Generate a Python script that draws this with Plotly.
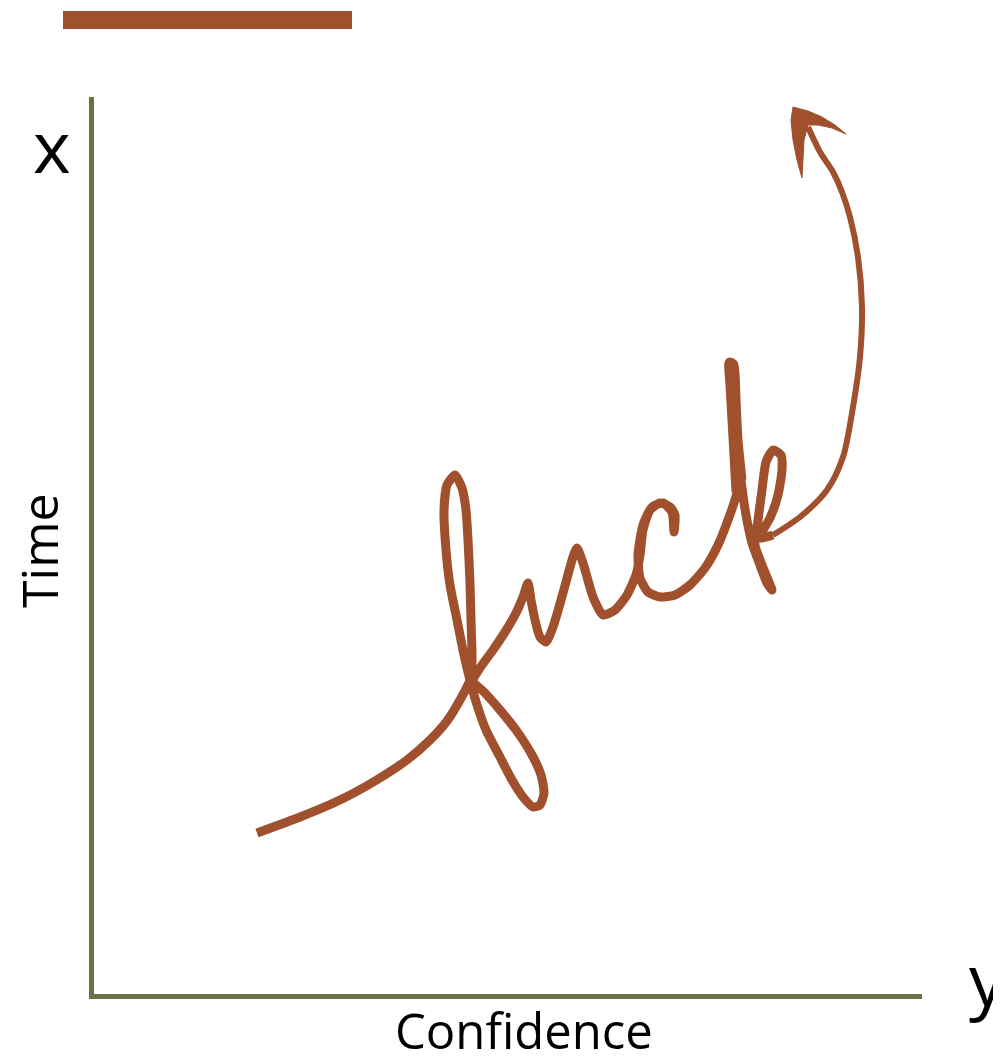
import plotly.graph_objects as go

# hand-written stroke (pixel-like units of the plot area)
script_x = [257, 300, 340, 375, 407, 430, 447, 460, 470,
            472, 471, 470, 468, 466, 462, 455,
            447, 444, 446, 450, 457, 464, 470,
            477, 486, 500, 512, 523, 533, 540,
            544, 541, 532, 516, 500, 485, 473,
            480, 493, 505, 515, 523, 528,
            531, 535, 540, 546, 553, 563, 573, 577, 583, 593, 603,
            615, 627, 636, 640, 643, 650, 660, 670, 675, 674,
            672, 663, 652, 643, 638, 640, 648, 660, 675, 690, 705, 718, 728, 737,
            735, 733, 731, 730,
            735, 737, 741, 746, 752, 760, 767, 772,
            762, 755, 758, 762, 766, 773, 781, 782, 778, 770, 762, 760, 773]
script_y = [833, 817, 800, 781, 760, 740, 721, 700, 680,
            660, 620, 583, 540, 510, 488, 475,
            485, 510, 550, 585, 620, 655, 680,
            705, 730, 757, 780, 797, 807, 805,
            793, 775, 755, 730, 710, 693, 681,
            668, 650, 632, 615, 597, 583,
            600, 620, 637, 642, 627, 593, 557, 548, 563, 597, 615,
            610, 595, 575, 555, 530, 510, 503, 507, 515, 532,
            512, 503, 507, 525, 555, 578, 592, 597, 595, 585, 568, 545, 520, 492,
            455, 420, 385, 363,
            400, 440, 480, 515, 543, 565, 583, 590,
            565, 545, 520, 490, 462, 450, 455, 470, 495, 518, 532, 538, 535]

# the thick upper part of the k stem
stem_x = [737, 735, 733, 731, 730, 733, 735, 737, 741]
stem_y = [492, 455, 420, 385, 363, 365, 400, 440, 480]

arrow_x = [773, 800, 827, 843, 853, 860, 862, 858, 850, 842, 833, 820, 808]
arrow_y = [535, 517, 490, 457, 407, 357, 307, 257, 217, 192, 172, 152, 127]

head_x = [793, 808, 822, 835, 846, 832, 818, 808, 804, 802, 797, 793, 791, 793]
head_y = [107, 111, 117, 125, 134, 128, 125, 125, 140, 178, 160, 140, 120, 107]

axis_labels = ["Confidence", "Time"]
corner_labels = ["x", "y"]

ink = "#a0502c"
olive = "#6b7045"

X0, X1, Y0, Y1 = 94, 922, 994, 97


def px(x):
    return (x - X0) / (X1 - X0)


def py(y):
    return (Y0 - y) / (Y0 - Y1)


fig = go.Figure()
fig.add_trace(go.Scatter(x=script_x, y=script_y, mode="lines",
                         line=dict(color=ink, width=9, shape="spline", smoothing=0.6)))
fig.add_trace(go.Scatter(x=stem_x, y=stem_y, mode="lines",
                         line=dict(color=ink, width=11, shape="spline", smoothing=0.6)))
fig.add_trace(go.Scatter(x=arrow_x, y=arrow_y, mode="lines",
                         line=dict(color=ink, width=6, shape="spline", smoothing=0.8)))
fig.add_trace(go.Scatter(x=head_x, y=head_y, mode="lines", fill="toself",
                         fillcolor=ink, line=dict(color=ink, width=1)))

font = "Open Sans, Lato, sans-serif"
label_pos = [(524, 1030, 49, 0), (39, 551, 50, -90)]
for text, (lx, ly, size, angle) in zip(axis_labels, label_pos):
    fig.add_annotation(x=px(lx), y=py(ly), xref="paper", yref="paper",
                       xanchor="center", yanchor="middle", textangle=angle,
                       text=text, showarrow=False,
                       font=dict(family=font, size=size, color="black"))
corner_pos = [(52, 145), (988, 978)]
for text, (lx, ly) in zip(corner_labels, corner_pos):
    fig.add_annotation(x=px(lx), y=py(ly), xref="paper", yref="paper",
                       xanchor="center", yanchor="middle",
                       text=text, showarrow=False,
                       font=dict(family=font, size=72, color="black"))

# orange bar at the top
fig.add_shape(type="line", xref="paper", yref="paper",
              x0=px(63), x1=px(352), y0=py(20), y1=py(20),
              line=dict(color=ink, width=18))

fig.update_xaxes(range=[X0, X1], showline=True, linecolor=olive, linewidth=5,
                 showgrid=False, zeroline=False, showticklabels=False, ticks="")
fig.update_yaxes(range=[Y0, Y1], showline=True, linecolor=olive, linewidth=5,
                 showgrid=False, zeroline=False, showticklabels=False, ticks="")
# the page body adds an 8 px offset, so the margins are shifted by it
fig.update_layout(width=1001, height=1057, showlegend=False,
                  margin=dict(l=X0 - 8, r=1001 - X1 + 8, t=Y1 - 8, b=1057 - Y0 + 8),
                  paper_bgcolor="white", plot_bgcolor="white")

fig.write_html("out.html")
